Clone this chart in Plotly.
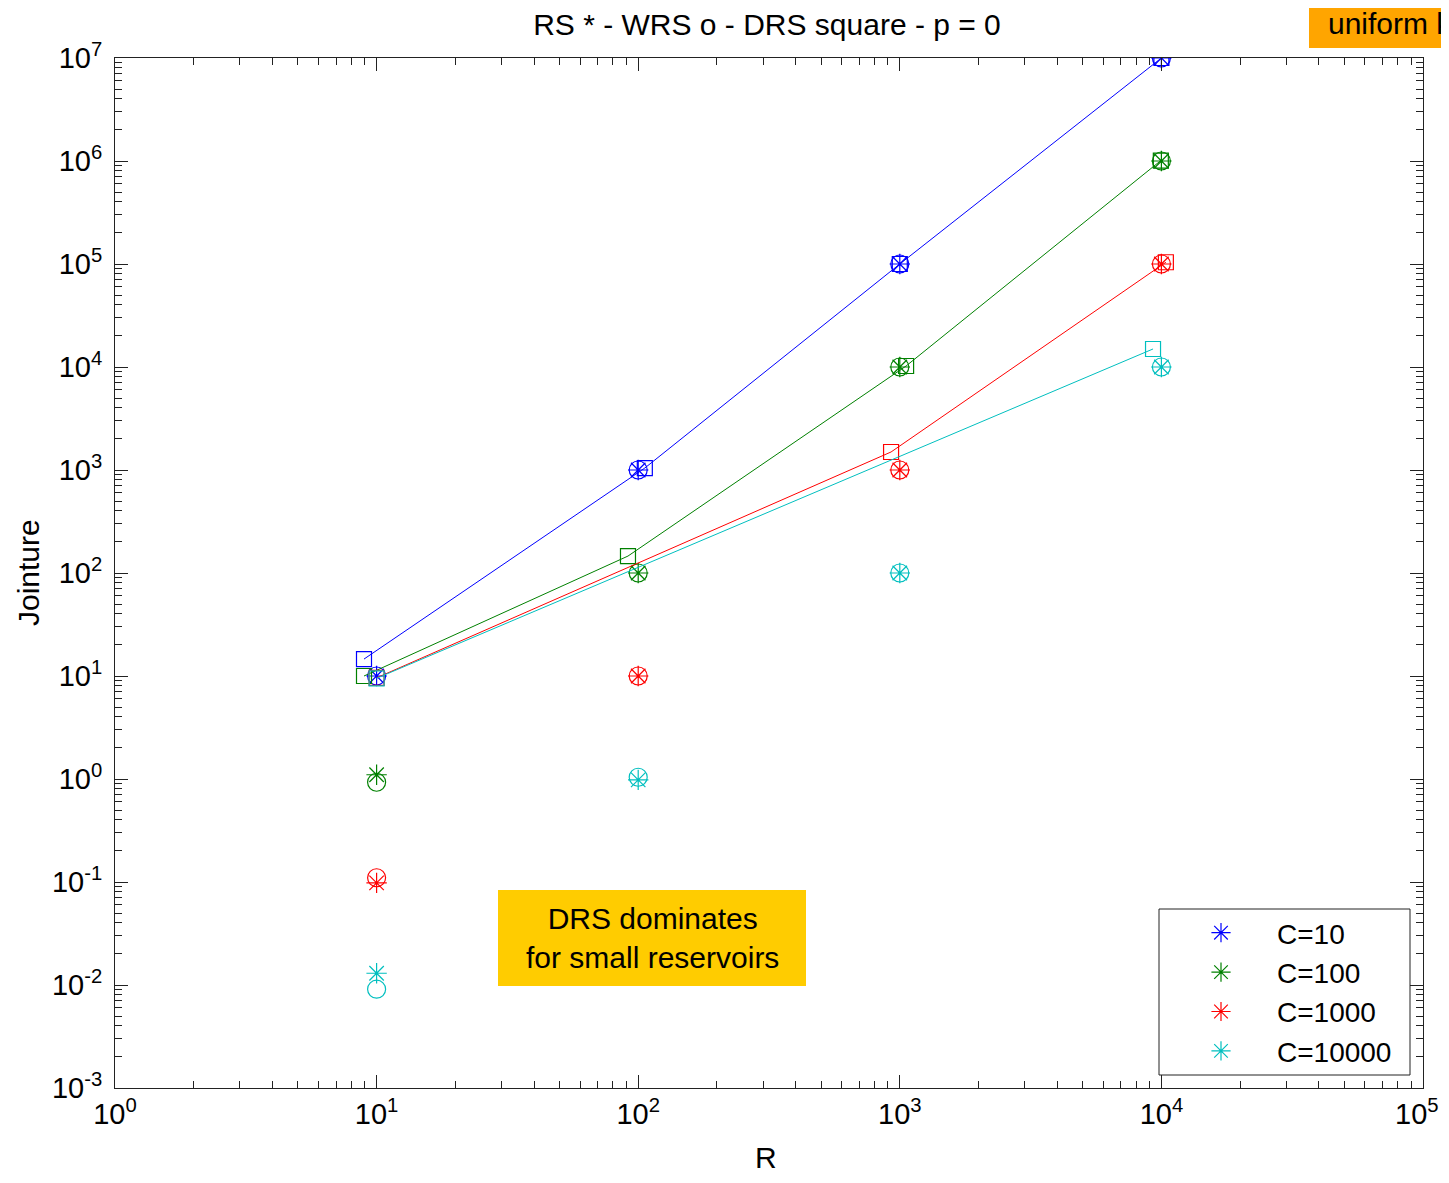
import plotly.graph_objects as go
import numpy as np

# ---------------- data ----------------
R = [10, 100, 1000, 10000]
C_labels = ["C=10", "C=100", "C=1000", "C=10000"]
colors = ["#0000FF", "#008000", "#FF0000", "#00BFBF"]

# RS (*)
rs_c10 = [10, 1000, 1e5, 1e7]
rs_c100 = [1.1, 100, 1e4, 1e6]
rs_c1000 = [0.098, 10, 1000, 1e5]
rs_c10000 = [0.013, 0.98, 100, 1e4]

# WRS (o)
wrs_c10 = [10, 1000, 1e5, 1e7]
wrs_c100 = [0.93, 100, 1e4, 1e6]
wrs_c1000 = [0.11, 10, 1000, 1e5]
wrs_c10000 = [0.0091, 1.04, 100, 1e4]

# DRS (square, with line)
drs_x_c10 = [8.95, 106, 1000, 10000]
drs_y_c10 = [14.6, 1045, 1e5, 1e7]
drs_x_c100 = [8.95, 91.4, 1057, 9950]
drs_y_c100 = [10.0, 146, 10230, 1.01e6]
drs_x_c1000 = [10, 926, 10400]
drs_y_c1000 = [9.6, 1496, 1.04e5]
drs_x_c10000 = [10, 9290]
drs_y_c10000 = [9.5, 14960]

x_tick_exp = [0, 1, 2, 3, 4, 5]
y_tick_exp = [-3, -2, -1, 0, 1, 2, 3, 4, 5, 6, 7]

rs = [rs_c10, rs_c100, rs_c1000, rs_c10000]
wrs = [wrs_c10, wrs_c100, wrs_c1000, wrs_c10000]
drs_x = [drs_x_c10, drs_x_c100, drs_x_c1000, drs_x_c10000]
drs_y = [drs_y_c10, drs_y_c100, drs_y_c1000, drs_y_c10000]

FONT = "Arial, Liberation Sans, sans-serif"

fig = go.Figure()
for i in range(4):
    col = colors[i]
    fig.add_trace(go.Scatter(
        x=drs_x[i], y=drs_y[i], mode="lines+markers",
        line=dict(color=col, width=1),
        marker=dict(symbol="square-open", size=15, color=col, line=dict(width=1.2, color=col)),
        showlegend=False, hoverinfo="skip"))
    fig.add_trace(go.Scatter(
        x=R, y=rs[i], mode="markers", name=C_labels[i], legendgroup=f"g{i}",
        marker=dict(symbol="asterisk-open", size=17, color=col, line=dict(width=1.2, color=col)),
        showlegend=True))
    fig.add_trace(go.Scatter(
        x=R, y=wrs[i], mode="markers",
        marker=dict(symbol="circle-open", size=18, color=col, line=dict(width=1.2, color=col)),
        showlegend=False, hoverinfo="skip"))

# minor ticks
x_minor = [m * 10 ** e for e in x_tick_exp[:-1] for m in range(2, 10)]
y_minor = [m * 10 ** e for e in y_tick_exp[:-1] for m in range(2, 10)]

axis_common = dict(
    type="log", showgrid=False, zeroline=False,
    showline=True, linecolor="#222222", linewidth=1, mirror="ticks",
    ticks="inside", ticklen=13, tickwidth=1, tickcolor="#222222",
    tickfont=dict(family=FONT, size=29, color="#000000"),
)

# last x tick label sits at the page edge: drawn as annotation so it stays inside the page
x_ticktext = [f"10<sup>{e}</sup>" for e in x_tick_exp]
last_x_label = x_ticktext[-1]
x_ticktext[-1] = ""

fig.update_xaxes(
    **axis_common,
    range=[0, 5],
    tickmode="array",
    tickvals=[10 ** e for e in x_tick_exp],
    ticktext=x_ticktext,
    minor=dict(tickmode="array", tickvals=x_minor, ticks="inside", ticklen=7,
               tickcolor="#222222", showgrid=False),
)
fig.update_yaxes(
    **axis_common,
    range=[-3, 7],
    tickmode="array",
    tickvals=[10 ** e for e in y_tick_exp],
    ticktext=[f"10<sup>{e}</sup>" for e in y_tick_exp],
    ticklabelstandoff=6,
    minor=dict(tickmode="array", tickvals=y_minor, ticks="inside", ticklen=7,
               tickcolor="#222222", showgrid=False),
)

# page has an 8px body margin: compensate and avoid any scrollbars
OFF = 8
Lp, Rp, Tp, Bp = 115, 1423, 58, 1088   # target plot area in page pixels
W, H = 1449 - 2 * OFF, 1183 - 2 * OFF
L, T = Lp - OFF, Tp - OFF
pw, ph = Rp - Lp, Bp - Tp
Rm = W - L - pw
B = H - T - ph


def px(x):
    return (x - Lp) / pw


def py(y):
    return (Bp - y) / ph


shapes = [
    dict(type="rect", xref="paper", yref="paper",
         x0=px(498), x1=px(806), y0=py(986), y1=py(890),
         fillcolor="#FFCC00", line=dict(width=0), layer="above"),
    dict(type="rect", xref="paper", yref="paper",
         x0=px(1309), x1=px(1470), y0=py(48), y1=py(-10),
         fillcolor="#FFA500", line=dict(width=0), layer="above"),
    # legend frame
    dict(type="rect", xref="paper", yref="paper",
         x0=px(1159), x1=px(1410), y0=py(1075), y1=py(909),
         fillcolor="white", line=dict(width=1, color="#222222"), layer="above"),
]

annotations = [
    dict(text="DRS dominates<br>for small reservoirs", xref="paper", yref="paper",
         x=px(652), y=py(938), xanchor="center", yanchor="middle", showarrow=False,
         font=dict(family=FONT, size=30, color="#000000"), align="center"),
    dict(text="uniform k", xref="paper", yref="paper",
         x=px(1326), y=py(23), xanchor="left", yanchor="middle", showarrow=False,
         font=dict(family=FONT, size=30, color="#000000")),
    dict(text="R", xref="paper", yref="paper", x=px(766), y=py(1157),
         xanchor="center", yanchor="middle", showarrow=False,
         font=dict(family=FONT, size=30, color="#000000")),
    dict(text="Jointure", xref="paper", yref="paper", x=px(28), y=py(573),
         xanchor="center", yanchor="middle", showarrow=False, textangle=-90,
         font=dict(family=FONT, size=30, color="#000000")),
    dict(text=last_x_label, xref="paper", yref="paper", x=px(1440), y=py(1112),
         xanchor="right", yanchor="middle", showarrow=False, borderpad=0,
         font=dict(family=FONT, size=29, color="#000000")),
]

fig.update_layout(
    width=W, height=H,
    margin=dict(l=L, r=Rm, t=T, b=B, pad=0),
    paper_bgcolor="white", plot_bgcolor="white",
    title=dict(text="RS * - WRS o - DRS square - p = 0", x=px(767), xref="paper",
               xanchor="center", y=1 - (24 - OFF) / H, yanchor="middle",
               font=dict(family=FONT, size=30, color="#000000")),
    legend=dict(x=px(1165), y=py(908), xanchor="left", yanchor="top",
                bgcolor="rgba(0,0,0,0)", borderwidth=0,
                font=dict(family=FONT, size=28, color="#000000"),
                tracegroupgap=0, itemwidth=102),
    shapes=shapes, annotations=annotations,
)

fig.write_html("out.html")
